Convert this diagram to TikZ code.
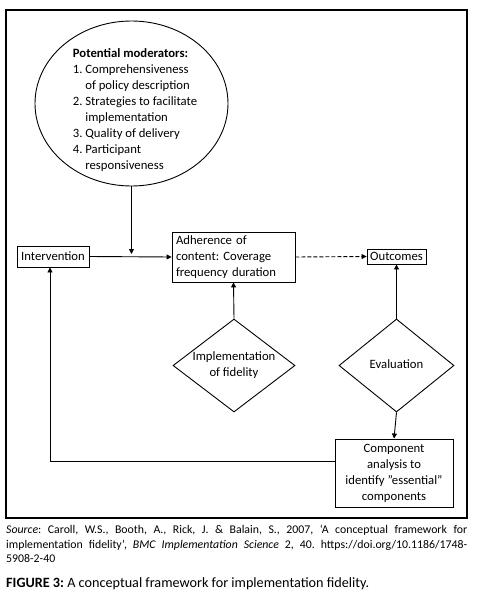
\documentclass[tikz,border=0pt]{standalone}
\usepackage{fontspec}
\setmainfont{Carlito}
\frenchspacing
\usetikzlibrary{arrows.meta,shapes.geometric,calc}
\tikzset{
  ln/.style={line width=0.9pt},
  arr/.style={ln,-{Triangle[length=5pt,width=5pt]}},
  box/.style={draw,ln,rectangle,inner sep=0pt,font=\fontsize{12.7}{16}\selectfont},
  dia/.style={draw,ln,diamond,inner sep=0pt,align=center},
  txt/.style={font=\fontsize{12.7}{16}\selectfont,inner sep=0pt}
}
\begin{document}
\begin{tikzpicture}[x=1pt,y=-1pt]
\useasboundingbox (0,0) rectangle (483,602);
\draw[line width=1.2pt] (6,10) rectangle (467,518);
% ellipse
\node[draw,ln,ellipse,minimum width=193pt,minimum height=165pt,inner sep=0pt] (mod) at (131.5,103.5) {};
\node[txt,align=left] (modtext) at (135,110) {\textbf{Potential moderators:}\\
1. Comprehensiveness\\
\phantom{1. }of policy description\\
2. Strategies to facilitate\\
\phantom{2. }implementation\\
3. Quality of delivery\\
4. Participant\\
\phantom{4. }responsiveness};
% boxes
\node[box,minimum width=72pt,minimum height=21pt] (interv) at (53,256.5) {Intervention};
\node[box,minimum width=123pt,minimum height=50pt,text width=115pt,align=left,inner xsep=4pt] (adh) at (233.5,257) {Adherence of\\content: Coverage\\frequency duration};
\node[box,minimum width=59pt,minimum height=15pt] (out) at (396.5,256.5) {Outcomes};
\node[dia,minimum width=122pt,minimum height=93pt,aspect=1.31] (impl) at (234,365.5) {};
\node[txt,align=center] (impltext) at (234,365.5) {Implementation\\of fidelity};
\node[dia,minimum width=115pt,minimum height=93pt,aspect=1.24] (eval) at (396.5,365.5) {};
\node[txt] (evaltext) at (396.5,364) {Evaluation};
\node[box,minimum width=118pt,minimum height=68pt,align=center] (comp) at (394,473) {Component\\analysis to\\identify "essential"\\components};
% connectors
\coordinate (j) at (131.5,254);
\draw[arr] (interv.east) -- (adh.west);
\draw[arr] (mod.south) -- (j);
\draw[arr,dash pattern=on 4pt off 2pt] (adh.east) -- (out.west);
\draw[arr] (impl.north) -- (adh.south);
\draw[arr] (eval.north) -- (out.south);
\draw[arr] (eval.south) -- (comp.north);
\coordinate (c1) at ($(comp.west)+(0,-12)$);
\coordinate (c2) at ($(interv.south)+(-3,0)$);
\draw[arr] (c1) -| (c2);
% caption
\node[anchor=north west,inner sep=0pt,text width=461pt,align=justify,font=\fontsize{11.8}{14.5}\selectfont] (src) at (6,525) {\textit{Source}: Caroll, W.S., Booth, A., Rick, J. \& Balain, S., 2007, ‘A conceptual framework for\linebreak implementation fidelity’, \textit{BMC Implementation Science} 2, 40. https://doi.org/10.1186/1748-\linebreak 5908-2-40};
\node[anchor=base west,inner sep=0pt,font=\fontsize{14.2}{16}\selectfont] (fig) at (6,587) {\textbf{FIGURE 3:} A conceptual framework for implementation fidelity.};
\end{tikzpicture}
\end{document}
